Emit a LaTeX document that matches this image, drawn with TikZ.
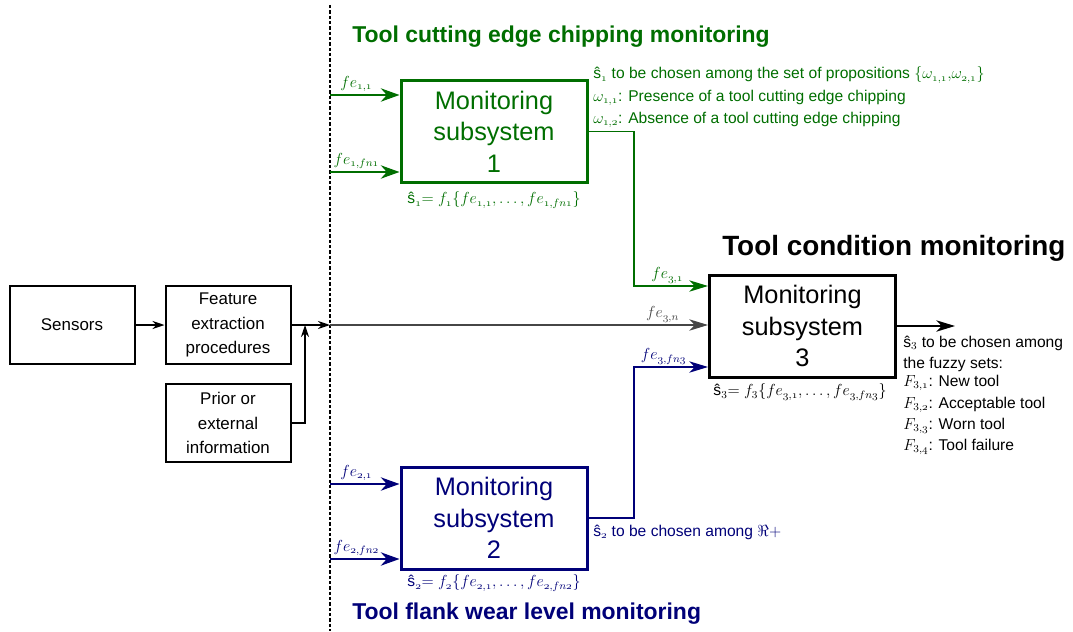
\documentclass[tikz,border=0pt]{standalone}
\usepackage[no-math]{fontspec}
\setmainfont{Liberation Sans}
\usetikzlibrary{arrows.meta}
\definecolor{chipgreen}{RGB}{0,110,0}
\definecolor{wearblue}{RGB}{0,0,120}
\definecolor{featgray}{RGB}{70,70,70}
\newcommand{\fe}[1]{fe_{\mathnormal{#1}}}
\newcommand{\est}[1]{ŝ$_{\mathnormal{#1}}$}

\begin{document}
\begin{tikzpicture}[x=0.75pt, y=-0.75pt,
    smallbox/.style={draw, line width=1.5pt, align=center, minimum width=93.75pt, minimum height=58.5pt, inner sep=0pt, font=\fontsize{12.7}{18.4}\selectfont},
    monbox/.style={draw, line width=2.25pt, align=center, minimum width=139.5pt, minimum height=76.5pt, inner sep=0pt, font=\fontsize{19}{23.6}\selectfont},
    headline/.style={anchor=west, inner sep=0pt, font=\fontsize{17.2}{20}\selectfont\bfseries},
    note/.style={anchor=west, inner sep=0pt, font=\fontsize{11.7}{14}\selectfont},
    flabel/.style={above, inner sep=1.5pt, font=\fontsize{11.5}{13}\selectfont},
    inarrow/.style={line width=1.5pt, -{Stealth[length=14pt, width=10pt, inset=4.5pt]}},
    linkarrow/.style={line width=1pt, -{Stealth[length=14pt, width=8.5pt, inset=4pt]}},
    thinarrow/.style={line width=1pt, -{Stealth[length=9pt, width=6pt, inset=3pt]}}]
  \useasboundingbox (0,0) rectangle (1073,631);
  \coordinate (cuttop) at (330,5);
  \coordinate (cutbot) at (330,631);
  \draw[line width=0.9pt, dash pattern=on 2.5pt off 1.5pt] (cuttop) -- (cutbot);

  \node[smallbox] (sensors) at (72,325) {Sensors};
  \node[smallbox] (feat) at (228,325) {Feature\\extraction\\procedures};
  \node[smallbox] (prior) at (228,423) {Prior or\\external\\information};
  \node[monbox, chipgreen] (mon1) at (494,131.5) {Monitoring\\subsystem\\1};
  \node[monbox, wearblue] (mon2) at (494,518) {Monitoring\\subsystem\\2};
  \node[monbox] (mon3) at (802.5,326) {Monitoring\\subsystem\\3};

  \node[headline, chipgreen] (head1) at (352,37) {Tool cutting edge chipping monitoring};
  \node[headline, wearblue] (head2) at (352,614) {Tool flank wear level monitoring};
  \node[headline, font=\fontsize{20.9}{24}\selectfont\bfseries] (head3) at (722,248) {Tool condition monitoring};

  \coordinate (join) at (330,325);
  \coordinate (merge) at (305,325);
  \draw[thinarrow] (sensors) -- (feat);
  \draw[thinarrow] (feat) -- (join);
  \draw[thinarrow] (prior) -| (merge);
  \draw[linkarrow, featgray] (join) -- (join -| mon3.west) node[flabel, pos=0.88] {$\fe{3,n}$};

  \foreach \nm/\y/\sub in {a/95/{1,1}, b/172/{1,fn1}} {
    \coordinate (in1\nm) at (330,\y);
    \draw[inarrow, chipgreen] (in1\nm) -- (in1\nm -| mon1.west) node[flabel, pos=0.38] {$\fe{\sub}$};
  }
  \foreach \nm/\y/\sub in {a/484/{2,1}, b/559/{2,fn2}} {
    \coordinate (in2\nm) at (330,\y);
    \draw[inarrow, wearblue] (in2\nm) -- (in2\nm -| mon2.west) node[flabel, pos=0.38] {$\fe{\sub}$};
  }

  \coordinate (up1) at (634,286);
  \draw[linkarrow, chipgreen] (mon1.east) -| (up1) -- (up1 -| mon3.west) node[flabel, pos=0.45] {$\fe{3,1}$};
  \coordinate (up2) at (634,367);
  \draw[linkarrow, wearblue] (mon2.east) -| (up2) -- (up2 -| mon3.west) node[flabel, pos=0.4] {$\fe{3,fn3}$};
  \coordinate (out) at (955,326);
  \draw[linkarrow, line width=1.2pt] (mon3) -- (out);

  \node[note, chipgreen] (set1) at (593,75) {\est{1} to be chosen among the set of propositions $\{\omega_{\mathnormal{1,1}}{,}\omega_{\mathnormal{2,1}}\}$};
  \node[note, chipgreen] (pres1) at (593,98) {$\omega_{\mathnormal{1,1}}$: Presence of a tool cutting edge chipping};
  \node[note, chipgreen] (abs1) at (593,120) {$\omega_{\mathnormal{1,2}}$: Absence of a tool cutting edge chipping};
  \node[note, wearblue] (set2) at (593,532) {\est{2} to be chosen among $\Re+$};

  \node[note, anchor=center, chipgreen] (eq1) at (494,200) {\est{1}$=f_{\mathnormal{1}}\{\fe{1,1},\ldots,\fe{1,fn1}\}$};
  \node[note, anchor=center, wearblue] (eq2) at (494,583) {\est{2}$=f_{\mathnormal{2}}\{\fe{2,1},\ldots,\fe{2,fn2}\}$};
  \node[note, anchor=center] (eq3) at (800,392) {ŝ$_3$$=f_3\{\fe{3,1},\ldots,\fe{3,fn3}\}$};

  \foreach \nm/\y/\txt in {a/343/{ŝ$_3$ to be chosen among}, b/364/{the fuzzy sets:}, c/383/{$F_{3,\mathnormal{1}}$: New tool}, d/405/{$F_{3,\mathnormal{2}}$: Acceptable tool}, e/426/{$F_{3,\mathnormal{3}}$: Worn tool}, f/447/{$F_{3,\mathnormal{4}}$: Tool failure}}
    \node[note] (fuzzy\nm) at (903,\y) {\txt};
\end{tikzpicture}
\end{document}
